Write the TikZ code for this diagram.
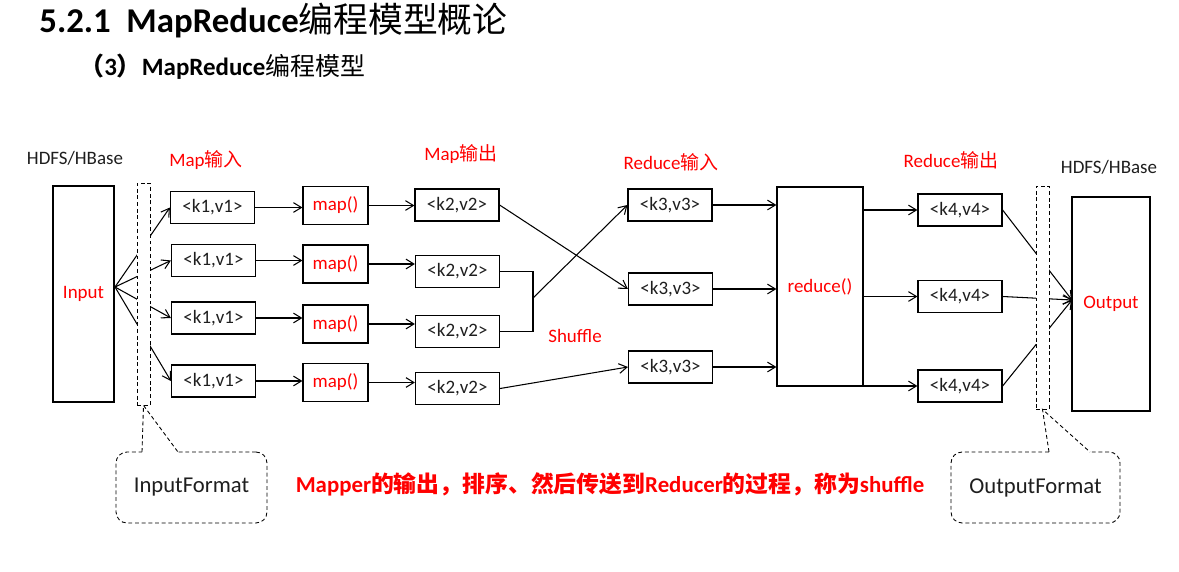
\documentclass[tikz,border=0pt]{standalone}
\usepackage{fontspec}
\setmainfont{Carlito}
\newfontfamily\cjk{Noto Sans CJK SC}
\usetikzlibrary{arrows.meta}
\usetikzlibrary{calc}
\newcommand{\zh}[1]{{\cjk #1}}
\definecolor{mred}{RGB}{255, 0, 0}
\definecolor{mink}{RGB}{30, 30, 30}
\tikzset{kv/.style = {draw, line width = 0.7pt, minimum width = 1.68cm, minimum height = 0.64cm, inner sep = 0}}
\tikzset{fn/.style = {draw, line width = 0.7pt, text = mred, minimum width = 1.3cm, minimum height = 0.76cm, inner sep = 0}}
\tikzset{store/.style = {draw, line width = 0.7pt, text = mred, inner sep = 0}}
\tikzset{dots/.style = {line width = 0.5pt, dash pattern = on 2.2pt off 1.6pt}}
\tikzset{bar/.style = {draw, dots, fill = white, minimum width = 0.26cm, inner sep = 0}}
\tikzset{tag/.style = {text = mred}}
\tikzset{callout/.style = {draw, dots, rounded corners = 0.22cm, fill = white,
                           font = \fontsize{12.9pt}{15pt}\selectfont, minimum height = 1.42cm, inner sep = 0}}

\begin{document}
\begin{tikzpicture}[x = 0.02cm, y = -0.02cm, line width = 0.6pt, text = mink,
                    >={Straight Barb[length = 4.5pt, width = 5.5pt]},
                    font = \fontsize{10.8pt}{13pt}\selectfont]
      \useasboundingbox (0, 0) rectangle (1179, 571);

      \node [anchor = base west, text = black, font = \fontsize{19.8pt}{24pt}\selectfont\bfseries] (title) at (33, 33)
            {5.2.1\hspace{0.45em}MapReduce\zh{\mdseries 编程模型概论}};
      \node [anchor = base west, text = black, font = \fontsize{14.2pt}{17pt}\selectfont\bfseries] (subtitle) at (73, 75)
            {\zh{（}3\zh{）}MapReduce\zh{\mdseries 编程模型}};

      \node (srcdb) at (75, 158) {HDFS/HBase};
      \node [tag] (mapin) at (206, 160) {Map\zh{输入}};
      \node [tag] (mapout) at (461, 154) {Map\zh{输出}};
      \node [tag] (redin) at (671, 162) {Reduce\zh{输入}};
      \node [tag] (redout) at (951, 160) {Reduce\zh{输出}};
      \node (dstdb) at (1109, 167) {HDFS/HBase};

      \node [store, minimum width = 1.22cm, minimum height = 4.32cm] (input) at (83.5, 294) {Input};
      \node [store, minimum width = 1.56cm, minimum height = 4.28cm] (output) at (1111, 304) {Output};
      \node [store, minimum width = 1.72cm, minimum height = 3.98cm] (reduce) at (820, 286.5) {reduce()};

      \node [kv] (k1a) at (212.5, 207.5) {<k1,v1>};
      \node [kv] (k1b) at (213.5, 260.5) {<k1,v1>};
      \node [kv] (k1c) at (213.5, 318) {<k1,v1>};
      \node [kv] (k1d) at (213.5, 381) {<k1,v1>};

      \node [fn] (mapa) at (335.5, 205.5) {map()};
      \node [fn] (mapb) at (335.5, 264) {map()};
      \node [fn] (mapc) at (335.5, 324) {map()};
      \node [fn] (mapd) at (335.5, 382.5) {map()};

      \node [kv] (k2a) at (457, 205) {<k2,v2>};
      \node [kv] (k2b) at (457.5, 271.5) {<k2,v2>};
      \node [kv] (k2c) at (457.5, 331.5) {<k2,v2>};
      \node [kv] (k2d) at (457.5, 388.5) {<k2,v2>};

      \node [kv] (k3a) at (670, 205) {<k3,v3>};
      \node [kv] (k3b) at (670.5, 289) {<k3,v3>};
      \node [kv] (k3c) at (670.5, 367) {<k3,v3>};

      \node [kv] (k4a) at (960, 210) {<k4,v4>};
      \node [kv] (k4b) at (960, 296.5) {<k4,v4>};
      \node [kv] (k4c) at (960, 386) {<k4,v4>};

      \node [tag] (shuffle) at (575, 336) {Shuffle};

      \coordinate (fan) at (115, 287);
      \foreach \k in {k1a, k1b, k1c, k1d}
        \draw [->] (fan) -- (\k.west);

      \draw [->] (k1a.east) -- (k1a.east -| mapa.west);
      \draw [->] (k1b.east) -- (k1b.east -| mapb.west);
      \draw [->] (k1c.east) -- (k1c.east -| mapc.west);
      \draw [->] (k1d.east) -- (k1d.east -| mapd.west);

      \draw [->] (mapa.east) -- (mapa.east -| k2a.west);
      \draw [->] (mapb.east) -- (mapb.east -| k2b.west);
      \draw [->] (mapc.east) -- (mapc.east -| k2c.west);
      \draw [->] (mapd.east) -- (mapd.east -| k2d.west);

      \coordinate (join) at (533, 298);
      \draw [->] (k2a.east) -- (k3b.west);
      \draw (k2b.east) -| (join) |- (k2c.east);
      \draw [->] (join) -- (k3a.west);
      \draw [->] (k2d.east) -- (k3c.west);

      \draw [->] (k3a.east) -- (k3a.east -| reduce.west);
      \draw [->] (k3b.east) -- (k3b.east -| reduce.west);
      \draw [->] (k3c.east) -- (k3c.east -| reduce.west);

      \draw [->] (reduce.east |- k4a.west) -- (k4a.west);
      \draw [->] (reduce.east |- k4b.west) -- (k4b.west);
      \draw [->] (reduce.east |- k4c.west) -- (k4c.west);

      \coordinate (merge) at (1072, 300);
      \foreach \k in {k4a, k4b, k4c}
        \draw [->] (\k.east) -- (merge);

      \node [bar, minimum height = 4.44cm] (lbar) at (143.5, 294) {};
      \node [bar, minimum height = 4.46cm] (rbar) at (1042.5, 297.5) {};

      \node [callout, minimum width = 3.02cm] (infmt) at (191.5, 487.5) {InputFormat};
      \coordinate (infmtl) at (142, 452);
      \coordinate (infmtr) at (178, 452);
      \draw [white, line width = 1.6pt] (infmtl) -- (infmtr);
      \draw [dots] (infmtl) -- (lbar.south) -- (infmtr);

      \node [callout, minimum width = 3.38cm] (outfmt) at (1035.5, 487.5) {OutputFormat};
      \coordinate (outfmtl) at (1049, 452);
      \coordinate (outfmtr) at (1090, 452);
      \draw [white, line width = 1.6pt] (outfmtl) -- (outfmtr);
      \draw [dots] (outfmtl) -- (rbar.south) -- (outfmtr);

      \node [text = mred, font = \fontsize{13pt}{15pt}\selectfont\bfseries] (note) at (610, 484)
            {Mapper\zh{的输出，排序、然后传送到}Reducer\zh{的过程，称为}shuffle};
    \end{tikzpicture}
\end{document}
